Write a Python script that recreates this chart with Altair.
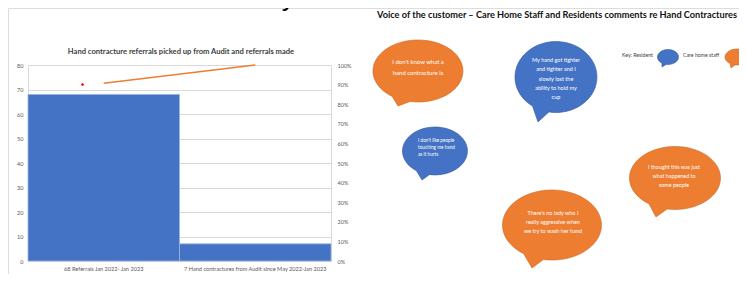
import math
import altair as alt
import pandas as pd

# ---------------- data ----------------
CATEGORIES = ["68 Referrals Jan 2022- Jan 2023",
              "7 Hand contractures from Audit since May 2022-Jan 2023"]
COUNTS = [68, 7]
CUM_PCT = [0.907, 1.0]
MARKER_POS = [0.36]
MARKER_VAL = [72]

CHART_TITLE = "Hand contracture referrals picked up from Audit and referrals made"
PANEL_TITLE = "Voice of the customer \u2013 Care Home Staff and Residents comments re Hand Contractures"
TOP_TEXT = "contractures within one year."

GROUPS = ["Care home staff", "Resident"]
QUOTE_GROUP = ["Care home staff", "Resident", "Resident", "Care home staff", "Care home staff"]
QUOTE_LINES = [
    ["I don't know what a", "hand contracture is"],
    ["My hand got tighter", "and tighter and I", "slowly lost the", "ability to hold my", "cup"],
    ["I don't like people", "touching me  hand", "as it hurts"],
    ["There's no lady who I", "really aggressive when", "we try to wash her hand"],
    ["I thought this was just", "what happened to", "some people"],
]
KEY_LABELS = ["Key: Resident", "Care home staff"]
KEY_GROUP = ["Resident", "Care home staff"]

# ---------------- layout / style ----------------
W, H = 731, 266
ORANGE, BLUE = "#ED7D31", "#4472C4"
ORANGE_EDGE, BLUE_EDGE = "#C9641F", "#34589C"
GRID = "#D9D9D9"
LABEL = "#595959"
FONT = "Lato"

# page-coordinate scales for the slide decorations
PX = alt.Scale(domain=[8, 8 + W], range=[0, W], nice=False, zero=False)
PY = alt.Scale(domain=[8, 8 + H], range=[0, H], nice=False, zero=False)

# plot area of the Excel chart (view px)
PL, PR, PT, PB = 20, 323, 57, 253

# bubble layout: cx, cy, w, h, tip_x, tip_y (page px), font size, line spacing, align, text x, first line y
BUBBLE_LAYOUT = [
    (418, 71, 90, 62, 398, 106, 6.0, 10.5, "center", 418, 62),
    (556, 77, 82, 71, 538, 122, 5.5, 9.3, "center", 556, 60),
    (435, 151, 65, 48, 422, 180, 4.7, 6.8, "left", 418, 141),
    (552, 225, 99, 70, 532, 268, 5.5, 9.2, "center", 553, 213),
    (675, 178, 91, 63, 656, 217, 5.4, 9.2, "center", 674, 167),
]
KEY_LAYOUT = [  # text x, text y, bubble cx, cy, w, h, tip x, tip y
    (622, 55, 668, 57, 21, 15, 662, 67),
    (683, 55, 737, 57, 24, 16, 731, 68),
]


def bubble_path(w, h, tip_dx, tip_dy, a1=100, a2=125):
    r = w / 2.0
    b = (h / 2.0) / r

    def pt(deg):
        t = math.radians(deg)
        return math.cos(t), b * math.sin(t)

    x2, y2 = pt(a1)
    x1, y1 = pt(a2)
    tx, ty = tip_dx / r, tip_dy / r
    return (f"M {x2:.4f} {y2:.4f} A 1 {b:.4f} 0 1 0 {x1:.4f} {y1:.4f} "
            f"L {tx:.4f} {ty:.4f} Z")


color_fill = alt.Scale(domain=GROUPS, range=[ORANGE, BLUE])
color_edge = alt.Scale(domain=GROUPS, range=[ORANGE_EDGE, BLUE_EDGE])

# ---------------- Excel chart ----------------
bars_df = pd.DataFrame({"cat": CATEGORIES, "count": COUNTS})
line_df = pd.DataFrame({"cat": CATEGORIES, "pct": CUM_PCT})
dot_df = pd.DataFrame({"pos": MARKER_POS, "val": MARKER_VAL})

XB = alt.Scale(type="band", domain=CATEGORIES, range=[PL, PR], paddingInner=0, paddingOuter=0)
XP = alt.Scale(type="point", domain=CATEGORIES, range=[PL, PR], padding=0.5)
YC = alt.Scale(domain=[0, 80], range=[PB, PT], nice=False, zero=True)
YP = alt.Scale(domain=[0, 1], range=[PB, PT], nice=False, zero=True)

bars = alt.Chart(bars_df).mark_bar(color=BLUE, stroke="#9DB3E0", strokeWidth=0.8).encode(
    x=alt.X("cat:N", scale=XB, sort=CATEGORIES, title=None,
            axis=alt.Axis(orient="bottom", offset=PB - H, labelAngle=0, ticks=False,
                          domain=True, domainColor=GRID, labelPadding=5,
                          labelFontSize=5.6, labelColor=LABEL, labelFont=FONT, grid=False)),
    y=alt.Y("count:Q", scale=YC, title=None,
            axis=alt.Axis(orient="left", offset=-PL, values=list(range(0, 81, 10)),
                          grid=True, gridColor=GRID, gridWidth=1, domain=True, domainColor=GRID,
                          ticks=False, labelFontSize=5.5, labelColor=LABEL, labelFont=FONT,
                          labelPadding=5)),
)

line = alt.Chart(line_df).mark_line(color=ORANGE, strokeWidth=1.4).encode(
    x=alt.X("cat:N", scale=XP, sort=CATEGORIES, axis=None),
    y=alt.Y("pct:Q", scale=YP, title=None,
            axis=alt.Axis(orient="right", offset=PR - W, format=".0%",
                          values=[i / 10 for i in range(11)], grid=False, domain=True,
                          domainColor=GRID, ticks=False, labelFontSize=5.5, labelColor=LABEL,
                          labelFont=FONT, labelPadding=6)),
)

dot = alt.Chart(dot_df).mark_point(filled=True, color="#FF0000", size=7, opacity=1).encode(
    x=alt.X("pos:Q", scale=alt.Scale(domain=[0, 2], range=[PL, PR], nice=False, zero=False), axis=None),
    y=alt.Y("val:Q", scale=YC, axis=None),
)

# ---------------- slide texts ----------------
def text_layer(x, y, txt, **kw):
    df = pd.DataFrame({"x": [x], "y": [y], "t": [txt]})
    return alt.Chart(df).mark_text(**kw).encode(
        x=alt.X("x:Q", scale=PX, axis=None),
        y=alt.Y("y:Q", scale=PY, axis=None),
        text="t:N",
    )


top_text = text_layer(2, 6, TOP_TEXT, font="Liberation Sans", fontSize=26.5, color="#000000",
                      align="left", baseline="alphabetic")
chart_title = text_layer(181, 52, CHART_TITLE, font=FONT, fontSize=7.6, fontWeight="bold",
                         color="#404040", align="center", baseline="middle")
panel_title = text_layer(377, 15, PANEL_TITLE, font=FONT, fontSize=9.2, fontWeight="bold",
                         color="#111111", align="left", baseline="middle")

# ---------------- speech bubbles ----------------
brows = []
for (cx, cy, w, h, tx, ty, *_), grp in zip(BUBBLE_LAYOUT, QUOTE_GROUP):
    brows.append({"cx": cx, "cy": cy, "size": w * w, "path": bubble_path(w, h, tx - cx, ty - cy),
                  "group": grp})
for (lx, ly, cx, cy, w, h, tx, ty), grp in zip(KEY_LAYOUT, KEY_GROUP):
    brows.append({"cx": cx, "cy": cy, "size": w * w, "path": bubble_path(w, h, tx - cx, ty - cy),
                  "group": grp})
bub_df = pd.DataFrame(brows)

bubbles = alt.Chart(bub_df).mark_point(filled=True, opacity=1, strokeWidth=0.6).encode(
    x=alt.X("cx:Q", scale=PX, axis=None),
    y=alt.Y("cy:Q", scale=PY, axis=None),
    shape=alt.Shape("path:N", scale=None, legend=None),
    size=alt.Size("size:Q", scale=None, legend=None),
    fill=alt.Fill("group:N", scale=color_fill, legend=None),
    stroke=alt.Stroke("group:N", scale=color_edge, legend=None),
)

trows = []
for lay, lines in zip(BUBBLE_LAYOUT, QUOTE_LINES):
    fs, sp, al, tx0, ty0 = lay[6], lay[7], lay[8], lay[9], lay[10]
    for i, ln in enumerate(lines):
        trows.append({"x": tx0, "y": ty0 + i * sp, "t": ln, "fs": fs, "al": al})
txt_df = pd.DataFrame(trows)

quote_center = alt.Chart(txt_df).transform_filter(alt.datum.al == "center").mark_text(
    color="#FFFFFF", font=FONT, align="center", baseline="middle").encode(
    x=alt.X("x:Q", scale=PX, axis=None),
    y=alt.Y("y:Q", scale=PY, axis=None),
    text="t:N",
    size=alt.Size("fs:Q", scale=None, legend=None),
)
quote_left = alt.Chart(txt_df).transform_filter(alt.datum.al == "left").mark_text(
    color="#FFFFFF", font=FONT, align="left", baseline="middle").encode(
    x=alt.X("x:Q", scale=PX, axis=None),
    y=alt.Y("y:Q", scale=PY, axis=None),
    text="t:N",
    size=alt.Size("fs:Q", scale=None, legend=None),
)

key_df = pd.DataFrame({"x": [k[0] for k in KEY_LAYOUT], "y": [k[1] for k in KEY_LAYOUT],
                       "t": KEY_LABELS})
key_text = alt.Chart(key_df).mark_text(font=FONT, fontSize=5.2, color="#404040",
                                        align="left", baseline="middle").encode(
    x=alt.X("x:Q", scale=PX, axis=None),
    y=alt.Y("y:Q", scale=PY, axis=None),
    text="t:N",
)

chart = alt.layer(
    bars, line, dot, top_text, chart_title, panel_title,
    bubbles, quote_center, quote_left, key_text,
).resolve_scale(
    x="independent", y="independent", fill="independent", stroke="independent", size="independent"
).properties(
    width=W, height=H, padding=0,
    autosize=alt.AutoSizeParams(type="none"),
).configure_view(stroke=None).configure(background="#FFFFFF")

chart.save("out.html", embed_options={"renderer": "svg", "actions": False})
